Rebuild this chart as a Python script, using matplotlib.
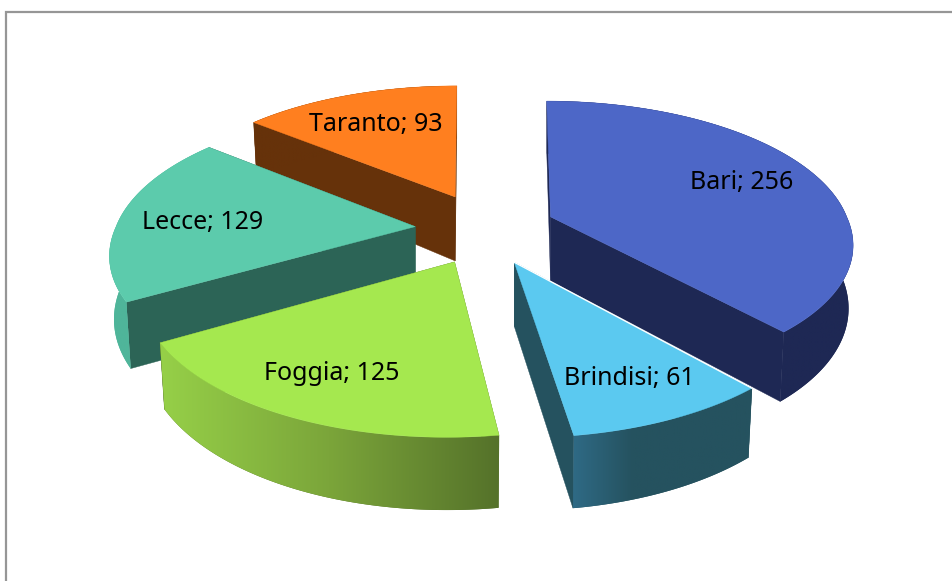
import numpy as np
import matplotlib
matplotlib.use("Agg")
import matplotlib.pyplot as plt
from matplotlib.patches import Polygon, Rectangle
from matplotlib.colors import to_rgb

# data
provinces = ["Bari", "Brindisi", "Foggia", "Lecce", "Taranto"]
counts = [256, 61, 125, 129, 93]

# style
top_colors = ["#4d67c7", "#5bc9f0", "#a5e84f", "#5ccbac", "#ff7f1f"]
wall_colors = ["#1e2854", "#25525f", "#55722a", "#2c6456", "#66320a"]
# colour stops along the rim, from its left end to its right end
rim_stops = [["#1e2854", "#1e2854"],
             ["#2f6a85", "#25525f", "#25525f", "#25525f"],
             ["#96d048", "#7ba53a", "#55722a"],
             ["#4fb59a", "#4fb59a"],
             ["#66320a", "#66320a"]]
label_xy = [(742, 182), (629, 378), (332, 374), (203, 223), (376, 124)]

W, H = 953, 581
CX, CY = 485, 229.5
RX, RY = 300, 138
K = 0.162
EX, EY = 70, 36
DEPTH = 61
APEX_DEPTH = 64
BOTTOM_SCALE = 0.985
SHEAR_FRONT, SHEAR_BACK = 0.00147, 0.0005
NEAR_SCALE = 0.002


def project(th, ox, oy, bottom=False):
    X, Y = np.sin(th), np.cos(th)
    p = 1 / (1 + K * Y)
    near = 1 + (oy - CY) * NEAR_SCALE
    y = -RY * Y * p * near
    shear = np.where(y > 0, SHEAR_FRONT, SHEAR_BACK)
    x = RX * X * p * np.sqrt(near) + (ox - CX) * y * shear
    if bottom:
        x = x * BOTTOM_SCALE
        y = y + DEPTH * p
    return ox + x, oy + y


fig = plt.figure(figsize=(W / 100, H / 100), dpi=100)
ax = fig.add_axes([0, 0, 1, 1])
ax.set_xlim(0, W)
ax.set_ylim(H, 0)
ax.axis("off")
ax.add_patch(Rectangle((6, 11.5), W + 20, H + 20, fc="white", ec="#969696", lw=1.6))

fracs = np.array(counts, dtype=float) / sum(counts) * 2 * np.pi
starts = np.concatenate([[0], np.cumsum(fracs)[:-1]])
draw_order = [4, 3, 0, 2, 1]

z = 1
for i in draw_order:
    a0, a1 = starts[i], starts[i] + fracs[i]
    mid = (a0 + a1) / 2
    ox = CX + EX * np.sin(mid)
    oy = CY - EY * np.cos(mid)
    th = np.linspace(a0, a1, 200)
    tx, ty = project(th, ox, oy)
    bx, by = project(th, ox, oy, bottom=True)
    abx, aby = ox, oy + APEX_DEPTH

    # radial walls
    for j in (0, -1):
        ax.add_patch(Polygon([(ox, oy), (tx[j], ty[j]), (bx[j], by[j]), (abx, aby)],
                             fc=wall_colors[i], ec=wall_colors[i], lw=0.3, zorder=z))
    z += 1
    # rim: a horizontal gradient clipped to the rim's outline
    outline = np.column_stack([np.r_[tx, bx[::-1]], np.r_[ty, by[::-1]]])
    ax.add_patch(Polygon(outline, fc=rim_stops[i][-1], ec="none", zorder=z))
    rim = Polygon(outline, fc="none", ec="none", zorder=z)
    ax.add_patch(rim)
    stops = np.array([to_rgb(c) for c in rim_stops[i]])
    t = np.linspace(0, 1, 256)
    pos = np.linspace(0, 1, len(stops))
    grad = np.column_stack([np.interp(t, pos, stops[:, c]) for c in range(3)])[None, :, :]
    x0, x1 = min(tx.min(), bx.min()), max(tx.max(), bx.max())
    y0, y1 = min(ty.min(), by.min()), max(ty.max(), by.max())
    im = ax.imshow(grad, extent=(x0, x1, y1, y0), aspect="auto", zorder=z, interpolation="bilinear")
    im.set_clip_path(rim)
    z += 1
    # top face
    ax.add_patch(Polygon(np.column_stack([np.r_[ox, tx], np.r_[oy, ty]]),
                         fc=top_colors[i], ec=top_colors[i], lw=0.3, zorder=z))
    z += 1
    if provinces[i] == "Brindisi":
        ax.plot([ox, tx[0]], [oy, ty[0]], color="white", lw=1.0, zorder=z)

ax.set_xlim(0, W)
ax.set_ylim(H, 0)
for i in range(len(provinces)):
    ax.text(label_xy[i][0], label_xy[i][1], f"{provinces[i]}; {counts[i]}",
            ha="center", va="center", fontsize=18, family="Noto Sans", color="black", zorder=50)

fig.savefig("out.png", dpi=100, facecolor="white")
